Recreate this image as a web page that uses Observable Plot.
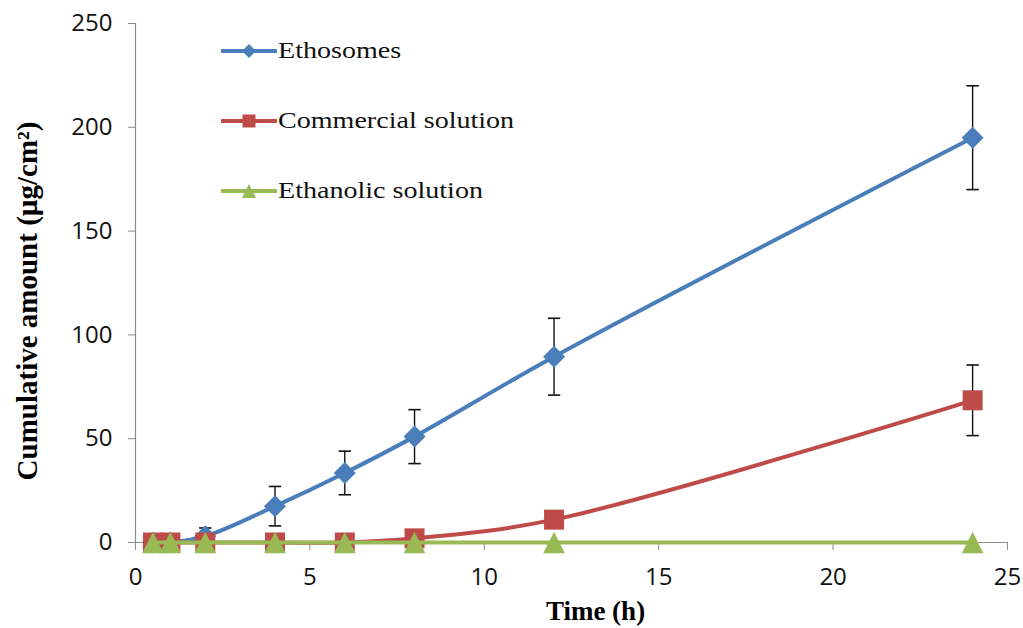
<!DOCTYPE html>
<html>
<head>
<meta charset="utf-8">
<script src="https://cdn.jsdelivr.net/npm/d3@7"></script>
<script src="https://cdn.jsdelivr.net/npm/@observablehq/plot@0.6"></script>
<style>
  body { margin: 0; background: #fff; }
  #chart { position: relative; width: 1023px; height: 628px; }
  .legend { position: absolute; left: 221px; top: 0; font-family: "Liberation Serif", "Times New Roman", serif; font-size: 23px; color: #111; }
  .legend .item { position: absolute; left: 0; height: 30px; display: flex; align-items: center; white-space: nowrap; }
  .legend .item svg { display: block; }
  .legend .item span { display: inline-block; margin-left: 1px; transform: scaleX(1.22); transform-origin: left center; }
</style>
</head>
<body>
<div id="chart"></div>
<script>
// Sampling times (h)
const hours = [0.5, 1, 2, 4, 6, 8, 12, 24];

// Series names and cumulative amounts (µg/cm²) with standard deviations
const seriesNames = ["Ethosomes", "Commercial solution", "Ethanolic solution"];
const ethosomes = [0, 0, 3, 17.5, 33.5, 51, 89.5, 195];
const ethosomesSD = [0, 0, 4, 9.5, 10.5, 13, 18.5, 25];
const commercial = [0, 0, 0, 0, 0, 2, 11, 68.5];
const commercialSD = [0, 0, 0, 0, 0, 0, 0, 17];
const ethanolic = [0, 0, 0, 0, 0, 0, 0, 0];
const ethanolicSD = [0, 0, 0, 0, 0, 0, 0, 0];

// Axis ticks
const xTicks = [0, 5, 10, 15, 20, 25];
const yTicks = [0, 50, 100, 150, 200, 250];

const colors = ["#4a7ebb", "#be4b48", "#98b954"];

// Marker shapes, drawn around their bounding-box centre; r = sqrt(size / PI)
const radius = (size) => Math.sqrt(size / Math.PI);
const diamond = { draw(c, size) { const r = radius(size); c.moveTo(0, -r); c.lineTo(r, 0); c.lineTo(0, r); c.lineTo(-r, 0); c.closePath(); } };
const square = { draw(c, size) { const r = radius(size); c.rect(-r, -r, 2 * r, 2 * r); } };
const triangle = { draw(c, size) { const r = radius(size); c.moveTo(0, -r); c.lineTo(r, r); c.lineTo(-r, r); c.closePath(); } };
const cap = { draw(c, size) { const r = radius(size); c.moveTo(-r, 0); c.lineTo(r, 0); } };
const shapes = [diamond, square, triangle];
const markerR = [11, 10, 10.8];

const values = [ethosomes, commercial, ethanolic];
const sds = [ethosomesSD, commercialSD, ethanolicSD];

const rows = [];
seriesNames.forEach((name, i) => {
  hours.forEach((t, j) => rows.push({ series: name, index: i, t, v: values[i][j], sd: sds[i][j] }));
});
const errRows = rows.filter((d) => d.sd > 0);

const sansFont = "'Open Sans', 'Noto Sans', sans-serif";
const serifFont = "'Liberation Serif', 'Times New Roman', serif";

const marks = [
  Plot.ruleX([0], { stroke: "#8c8c8c", strokeWidth: 1.2 }),
  Plot.ruleY([0], { stroke: "#8c8c8c", strokeWidth: 1.2 }),
  Plot.axisX({ ticks: xTicks, tickSize: 8, tickPadding: 17, stroke: "#8c8c8c", fill: "#111", fontSize: 24, fontFamily: sansFont, label: null }),
  Plot.axisY({ ticks: yTicks, tickSize: 7, tickPadding: 16, stroke: "#8c8c8c", fill: "#111", fontSize: 24, fontFamily: sansFont, label: null }),
  // error bars
  Plot.ruleX(errRows, { x: "t", y1: (d) => d.v - d.sd, y2: (d) => d.v + d.sd, stroke: "#111", strokeWidth: 1.4 }),
  Plot.dot(errRows, { x: "t", y: (d) => d.v - d.sd, symbol: cap, r: 6.2, stroke: "#111", strokeWidth: 1.6 }),
  Plot.dot(errRows, { x: "t", y: (d) => d.v + d.sd, symbol: cap, r: 6.2, stroke: "#111", strokeWidth: 1.6 })
];

seriesNames.forEach((name, i) => {
  const data = rows.filter((d) => d.series === name);
  marks.push(
    Plot.line(data, { x: "t", y: "v", stroke: colors[i], strokeWidth: 4, curve: "catmull-rom" }),
    Plot.dot(data, { x: "t", y: "v", symbol: shapes[i], r: markerR[i], fill: colors[i], stroke: "none" })
  );
});

// axis titles
marks.push(
  Plot.text(["Time (h)"], { frameAnchor: "bottom", textAnchor: "middle", dx: 24, dy: 77, lineAnchor: "bottom", fontSize: 27, fontWeight: "bold", fontFamily: serifFont, fill: "#000" }),
  Plot.text(["Cumulative amount (µg/cm²)"], { frameAnchor: "left", textAnchor: "middle", dx: -108, dy: 18, rotate: -90, fontSize: 29, fontWeight: "bold", fontFamily: serifFont, fill: "#000" })
);

const chart = Plot.plot({
  width: 1023,
  height: 628,
  marginTop: 23,
  marginRight: 16,
  marginBottom: 86,
  marginLeft: 135,
  x: { domain: [0, 25] },
  y: { domain: [0, 250] },
  style: { background: "#fff", overflow: "visible" },
  marks
});

const host = document.getElementById("chart");
host.appendChild(chart);

// legend inside the plot area
const legend = document.createElement("div");
legend.className = "legend";
const legendSize = [7, 6.5, 7];
seriesNames.forEach((name, i) => {
  const item = document.createElement("div");
  item.className = "item";
  item.style.top = (51 + i * 70 - 15) + "px";
  const sw = d3.create("svg").attr("width", 56).attr("height", 30);
  sw.append("line").attr("x1", 1).attr("x2", 55).attr("y1", 15).attr("y2", 15)
    .attr("stroke", colors[i]).attr("stroke-width", 4).attr("stroke-linecap", "round");
  sw.append("path").attr("transform", "translate(28,15)")
    .attr("d", d3.symbol(shapes[i], Math.PI * legendSize[i] ** 2)())
    .attr("fill", colors[i]);
  item.appendChild(sw.node());
  const label = document.createElement("span");
  label.textContent = name;
  item.appendChild(label);
  legend.appendChild(item);
});
host.appendChild(legend);
</script>
</body>
</html>
